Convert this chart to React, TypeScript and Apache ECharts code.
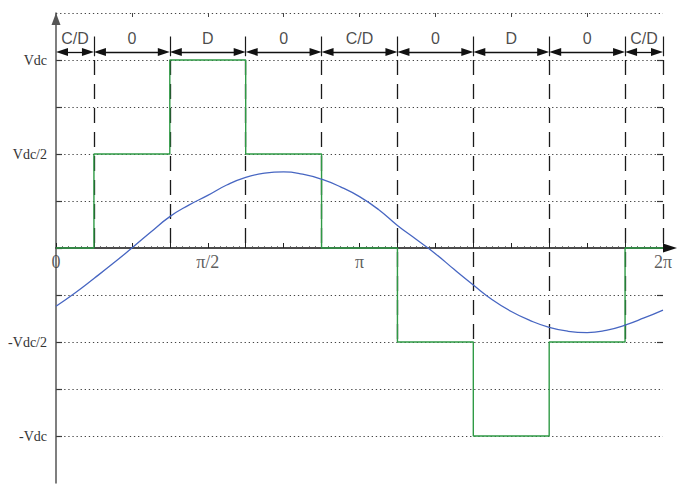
import { useEffect, useRef } from 'react';
import * as echarts from 'echarts';

// Switching instants (degrees) and the bridge output level in each interval (× Vdc)
const switchAngles = [0, 22.5, 67.5, 112.5, 157.5, 202.5, 247.5, 292.5, 337.5, 360];
const outputLevels = [0, 0.5, 1, 0.5, 0, -0.5, -1, -0.5, 0];
const stateLabels = ['C/D', '0', 'D', '0', 'C/D', '0', 'D', '0', 'C/D'];
// lower end of the dashed marker at each switching instant after 0
const dashedLineEnds = [0, 0, 0, 0, -0.5, -0.5, -0.5, -0.5, 0];

// Reference (modulating) wave, sampled every π/16
const refAngles = [
  0, 11.25, 22.5, 33.75, 45, 56.25, 67.5, 78.75, 90, 101.25, 112.5, 123.75, 135, 146.25, 157.5, 168.75,
  180, 191.25, 202.5, 213.75, 225, 236.25, 247.5, 258.75, 270, 281.25, 292.5, 303.75, 315, 326.25, 337.5, 348.75, 360,
];
const refValues = [
  -0.31, -0.239, -0.162, -0.083, 0, 0.085, 0.167, 0.228, 0.28, 0.335, 0.376, 0.398, 0.405, 0.393, 0.366, 0.325,
  0.273, 0.205, 0.12, 0.045, -0.03, -0.115, -0.197, -0.275, -0.338, -0.386, -0.422, -0.443, -0.45, -0.438, -0.41, -0.372, -0.33,
];

const yLabelValues = [-1, -0.5, 0.5, 1];
const yLabelTexts = ['-Vdc', '-Vdc/2', 'Vdc/2', 'Vdc'];
const xLabelValues = [0, 90, 180, 360];
const xLabelTexts = ['0', 'π/2', 'π', '2π'];
const gridLevels = [-1, -0.75, -0.5, -0.25, 0.25, 0.5, 0.75, 1, 1.25];
const yTickValues = [-1, -0.75, -0.5, -0.25, 0, 0.25, 0.5, 0.75, 1];
const rightTickValues = [-0.5, -0.25, 0.25, 0.5, 0.75, 1];
const topTickValues = [45, 90, 135, 180, 225, 270, 315];

// rows of the state annotation above the plot (in Vdc units)
const ARROW_ROW = 1.043;
const LABEL_ROW = 1.114;
const BAR_TOP = 1.125;
const BAR_BOTTOM = 1.02;
const DASH_TOP = 1.0;
// half an arrowhead, in degrees, so the arrow tips meet the switching marks
const ARROW_INSET = 3.55;

const SERIF = '"Liberation Serif", "Times New Roman", serif';
const SANS = '"Liberation Sans", Arial, sans-serif';

export default function App() {
  const ref = useRef<HTMLDivElement>(null);

  useEffect(() => {
    if (!ref.current) return;
    const chart = echarts.init(ref.current, undefined, { renderer: 'svg' });

    const greenData = outputLevels.flatMap((lv, i) => [
      [switchAngles[i], lv],
      [switchAngles[i + 1], lv],
    ]);
    const refData = refAngles.map((a, i) => [a, refValues[i]]);

    const gridLines = gridLevels.map((v) => ({ yAxis: v }));
    const dashedLines = switchAngles.slice(1).map((a, i) => [
      { coord: [a, DASH_TOP] },
      { coord: [a, dashedLineEnds[i]] },
    ]);
    const bars = switchAngles.slice(1).map((a) => [
      { coord: [a, BAR_BOTTOM] },
      { coord: [a, BAR_TOP] },
    ]);
    const arrows = stateLabels.map((_, i) => [
      { coord: [switchAngles[i] + ARROW_INSET, ARROW_ROW] },
      { coord: [switchAngles[i + 1] - ARROW_INSET, ARROW_ROW] },
    ]);
    const labelPoints = stateLabels.map((t, i) => ({
      name: t,
      value: [(switchAngles[i] + switchAngles[i + 1]) / 2, LABEL_ROW],
    }));
    const xLabelPoints = xLabelValues.map((v, i) => ({ name: xLabelTexts[i], value: [v, 0] }));

    chart.setOption({
      animation: false,
      backgroundColor: '#ffffff',
      grid: { left: 56, right: 15, top: 13, bottom: 6, outerBoundsMode: 'none', containLabel: false },
      xAxis: [
        {
          type: 'value',
          min: 0,
          max: 360,
          interval: 22.5,
          position: 'bottom',
          axisLine: {
            show: true,
            onZero: true,
            symbol: ['none', 'triangle'],
            symbolSize: [9, 14],
            symbolOffset: [0, 7],
            lineStyle: { color: '#111', width: 1.5 },
          },
          axisTick: { show: true, inside: true, length: 5, lineStyle: { color: '#222', width: 1 } },
          minorTick: { show: true, splitNumber: 6, length: 2, lineStyle: { color: '#555', width: 0.8 } },
          axisLabel: { show: false },
          splitLine: { show: false },
        },
        {
          type: 'value',
          min: 0,
          max: 360,
          position: 'top',
          axisLine: { show: false, onZero: false },
          axisTick: {
            show: true,
            inside: true,
            length: 4,
            customValues: topTickValues,
            lineStyle: { color: '#444', width: 1 },
          },
          axisLabel: { show: false },
          splitLine: { show: false },
        },
      ],
      yAxis: [
        {
          type: 'value',
          min: -1.25,
          max: 1.25,
          interval: 0.25,
          position: 'left',
          axisLine: {
            show: true,
            onZero: false,
            symbol: ['none', 'triangle'],
            symbolSize: [9, 12],
            symbolOffset: [0, -6],
            lineStyle: { color: '#555', width: 1.5 },
          },
          axisTick: {
            show: true,
            inside: true,
            length: 6,
            customValues: yTickValues,
            lineStyle: { color: '#333', width: 1.2 },
          },
          axisLabel: {
            show: true,
            customValues: yLabelValues,
            formatter: (v: number) => yLabelTexts[yLabelValues.indexOf(v)] ?? '',
            fontFamily: SERIF,
            fontSize: 14,
            color: '#333',
            margin: 9,
          },
          splitLine: { show: false },
        },
        {
          type: 'value',
          min: -1.25,
          max: 1.25,
          interval: 0.25,
          position: 'right',
          axisLine: { show: false, onZero: false },
          axisTick: {
            show: true,
            inside: true,
            length: 6,
            customValues: rightTickValues,
            lineStyle: { color: '#333', width: 1.2 },
          },
          axisLabel: { show: false },
          splitLine: { show: false },
        },
      ],
      series: [
        {
          type: 'line',
          data: [],
          silent: true,
          markLine: {
            z: 1,
            silent: true,
            symbol: ['none', 'none'],
            label: { show: false },
            lineStyle: { color: '#444', width: 1.2, type: [1.3, 2.8] },
            data: gridLines,
          },
        },
        {
          type: 'line',
          data: [],
          silent: true,
          markLine: {
            z: 1,
            silent: true,
            symbol: ['none', 'none'],
            label: { show: false },
            lineStyle: { color: '#1a1a1a', width: 1.3, type: [15, 9] },
            data: dashedLines,
          },
        },
        {
          type: 'line',
          data: [],
          silent: true,
          markLine: {
            z: 3,
            silent: true,
            symbol: ['none', 'none'],
            label: { show: false },
            lineStyle: { color: '#1a1a1a', width: 1.2, type: 'solid' },
            data: bars,
          },
        },
        {
          type: 'line',
          data: [],
          silent: true,
          markLine: {
            z: 3,
            silent: true,
            symbol: ['triangle', 'triangle'],
            symbolSize: [8, 12],
            label: { show: false },
            lineStyle: { color: '#111', width: 1.3, type: 'solid' },
            itemStyle: { color: '#111' },
            data: arrows,
          },
        },
        {
          type: 'scatter',
          data: labelPoints,
          symbolSize: 0,
          silent: true,
          z: 4,
          label: {
            show: true,
            position: 'inside',
            formatter: '{b}',
            fontFamily: SANS,
            fontSize: 16,
            color: '#1a1a1a',
          },
        },
        {
          type: 'scatter',
          data: xLabelPoints,
          symbolSize: 0,
          silent: true,
          z: 4,
          label: {
            show: true,
            position: 'bottom',
            distance: 5,
            formatter: '{b}',
            fontFamily: SERIF,
            fontSize: 18,
            color: '#333',
          },
        },
        {
          type: 'line',
          data: greenData,
          showSymbol: false,
          symbol: 'none',
          silent: true,
          z: 3,
          lineStyle: { color: '#2f9a45', width: 1.4 },
        },
        {
          type: 'line',
          data: refData,
          smooth: true,
          showSymbol: false,
          symbol: 'none',
          silent: true,
          z: 4,
          lineStyle: { color: '#4766c2', width: 1.3 },
        },
      ],
    });

    return () => chart.dispose();
  }, []);

  return (
    <div
      ref={ref}
      style={{ position: 'fixed', left: 0, top: 0, width: 678, height: 489, background: '#fff' }}
    />
  );
}
